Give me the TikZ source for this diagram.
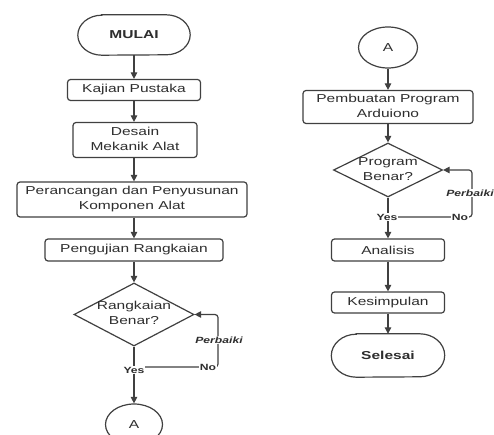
\documentclass[tikz,border=0pt]{standalone}
\usepackage{graphicx}
\usepackage{fontspec}
\setmainfont{Liberation Sans}
\usetikzlibrary{shapes.geometric,arrows.meta}
\definecolor{ln}{HTML}{404040}
\definecolor{txt}{HTML}{2E2E2E}
\newcommand{\hsx}[1]{\scalebox{1.35}[1]{#1}}
\newcommand{\twol}[2]{\hsx{\begin{tabular}{@{}c@{}}#1\\#2\end{tabular}}}
\newcommand{\dtext}[2]{\smash{\makebox[0pt]{\raisebox{-2.9pt}{\twol{#1}{#2}}}}}
\tikzset{
  every node/.style={text=txt, font=\fontsize{11.5}{15}\selectfont},
  box/.style={draw=ln, line width=1.2pt, rounded corners=3pt, inner sep=0pt, rectangle},
  dec/.style={draw=ln, line width=1.2pt, shape=diamond, inner sep=0pt},
  term/.style={inner sep=0pt, rectangle, font=\fontsize{11.5}{15}\selectfont\bfseries},
  conn/.style={draw=ln, line width=1.2pt, -{Triangle[length=6.5pt,width=6.5pt]}},
  lbl/.style={font=\fontsize{9}{10}\selectfont\bfseries, fill=white, inner sep=1pt},
  termline/.style={draw=ln, line width=1.2pt},
}
\begin{document}
\begin{tikzpicture}[x=1pt,y=1pt]
\clip (0,0) rectangle (494,-435);
\fill[white] (0,0) rectangle (494,-435);
% left column
\node[term, minimum width=112pt, minimum height=40pt] (mulai) at (134,-35) {\hsx{MULAI}};
\draw[termline] ([xshift=24pt]mulai.north west) -- ([xshift=-24pt]mulai.north east)
  arc[start angle=90,end angle=-90,x radius=24pt,y radius=20pt]
  -- ([xshift=24pt]mulai.south west)
  arc[start angle=270,end angle=90,x radius=24pt,y radius=20pt] -- cycle;
\node[box, minimum width=133pt, minimum height=21pt] (kajian) at (134,-90) {\hsx{Kajian Pustaka}};
\node[box, minimum width=124pt, minimum height=35pt] (desain) at (135,-140) {\twol{Desain}{Mekanik Alat}};
\node[box, minimum width=230pt, minimum height=35pt] (peran) at (132,-199.5) {\twol{Perancangan dan Penyusunan}{Komponen Alat}};
\node[box, minimum width=178pt, minimum height=22pt] (uji) at (134,-250) {\hsx{Pengujian Rangkaian}};
\node[dec, minimum width=120pt, minimum height=63pt] (d1) at (134,-314.5) {\dtext{Rangkaian}{Benar?}};
\node[ellipse, draw=ln, line width=1.2pt, minimum width=57pt, minimum height=41pt, inner sep=0pt] (a1) at (134,-424.5) {\hsx{A}};
% right column
\node[ellipse, draw=ln, line width=1.2pt, minimum width=59pt, minimum height=41pt, inner sep=0pt] (aR) at (388,-47.5) {\hsx{A}};
\node[box, minimum width=170pt, minimum height=33pt] (prog) at (388,-107) {\twol{Pembuatan Program}{Arduiono}};
\node[dec, minimum width=109pt, minimum height=54pt] (d2) at (388,-170) {\dtext{Program}{Benar?}};
\node[box, minimum width=113pt, minimum height=22pt] (anal) at (388,-250) {\hsx{Analisis}};
\node[box, minimum width=113pt, minimum height=21pt] (kes) at (388,-302.5) {\hsx{Kesimpulan}};
\node[term, minimum width=113pt, minimum height=43pt] (sel) at (388,-355.5) {\hsx{Selesai}};
\draw[termline] ([xshift=25pt]sel.north west) -- ([xshift=-25pt]sel.north east)
  arc[start angle=90,end angle=-90,x radius=25pt,y radius=21.5pt]
  -- ([xshift=25pt]sel.south west)
  arc[start angle=270,end angle=90,x radius=25pt,y radius=21.5pt] -- cycle;
% connectors left
\draw[conn] (mulai.south) -- (kajian.north);
\draw[conn] (kajian.south) -- (desain.north -| kajian.south);
\draw[conn] (desain.south -| kajian.south) -- (peran.north -| kajian.south);
\draw[conn] (peran.south -| kajian.south) -- (uji.north);
\draw[conn] (uji.south) -- (d1.north);
\draw[conn] (d1.south) -- (a1.north);
\coordinate (j1) at (134,-367);
\coordinate (c1) at (218,-367);
\draw[conn, rounded corners=3pt] (j1) -- (c1) |- (d1.east);
% connectors right
\draw[conn] (aR.south) -- (prog.north);
\draw[conn] (prog.south) -- (d2.north);
\draw[conn] (d2.south) -- (anal.north);
\draw[conn] (anal.south) -- (kes.north);
\draw[conn] (kes.south) -- (sel.north);
\coordinate (j2) at (388,-217);
\coordinate (c2) at (472,-217);
\draw[conn, rounded corners=3pt] (j2) -- (c2) |- (d2.east);
% labels
\node[lbl] (yes1) at (134,-370) {\hsx{Yes}};
\node[lbl] (no1) at (208,-367) {\hsx{No}};
\node[lbl] (perb1) at (219,-340) {\hsx{\itshape Perbaiki}};
\node[lbl] (yes2) at (387,-217) {\hsx{Yes}};
\node[lbl] (no2) at (460,-217) {\hsx{No}};
\node[lbl] (perb2) at (470,-193) {\hsx{\itshape Perbaiki}};
\end{tikzpicture}
\end{document}
